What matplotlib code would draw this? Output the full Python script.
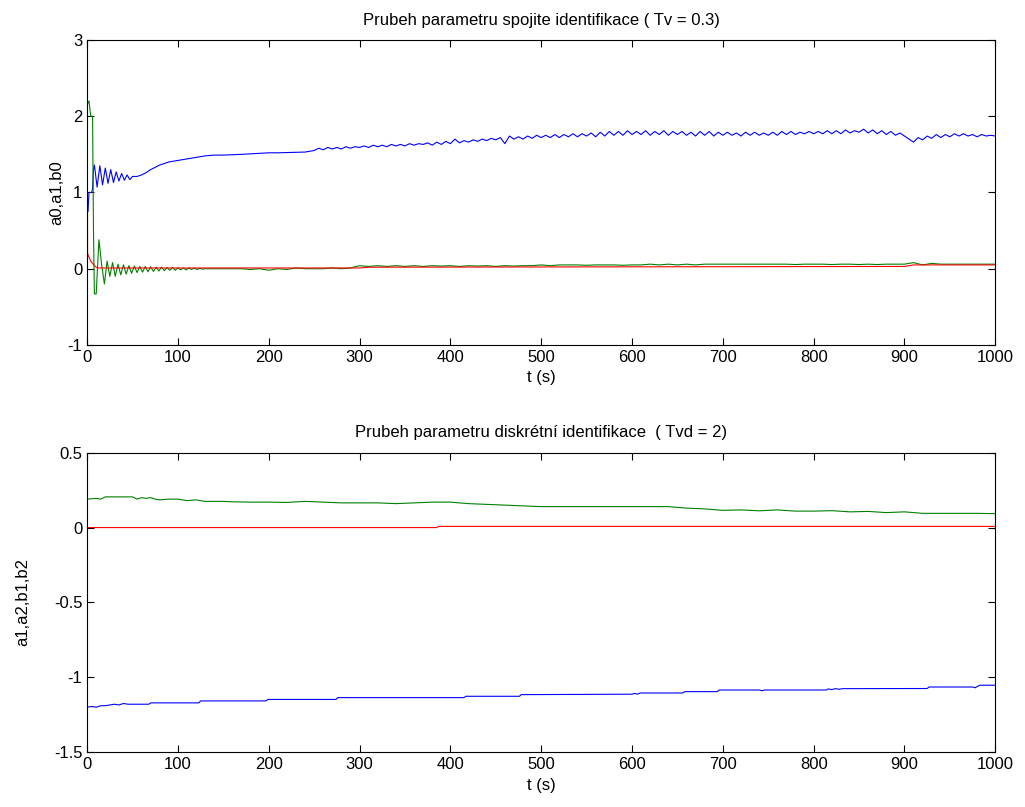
import numpy as np
import matplotlib
matplotlib.use("Agg")
import matplotlib.pyplot as plt
from matplotlib.ticker import FormatStrFormatter

plt.rcParams["font.family"] = ["Liberation Sans", "DejaVu Sans"]
plt.rcParams["axes.unicode_minus"] = False

# --- top: continuous identification ---
t_blue1 = [0, 1, 2, 3, 5, 6, 7,
           8, 11, 14, 17, 20, 23, 26, 29, 32, 35, 38, 41, 44, 47, 50,
           55, 60, 65, 70, 80, 90, 100, 110, 120, 130, 140, 150, 170, 200, 210, 240, 250]
blue1 = [0.75, 0.75, 1.0, 1.0, 1.0, 1.05, 1.3,
         1.36, 1.07, 1.35, 1.1, 1.32, 1.12, 1.3, 1.13, 1.27, 1.15, 1.25, 1.16, 1.23, 1.17, 1.21,
         1.21, 1.23, 1.26, 1.3, 1.36, 1.40, 1.42, 1.44, 1.46, 1.48, 1.49, 1.49, 1.50, 1.52,
         1.52, 1.53, 1.55]
t_blue2 = np.arange(255, 1001, 5)
blue2 = [1.58, 1.56, 1.59, 1.57, 1.59, 1.57, 1.60, 1.58, 1.60, 1.59,
         1.61, 1.59, 1.62, 1.60, 1.62, 1.60, 1.63, 1.61, 1.63, 1.61,
         1.64, 1.62, 1.64, 1.63, 1.65, 1.62, 1.66, 1.63, 1.67, 1.64,
         1.70, 1.65, 1.68, 1.66, 1.69, 1.67, 1.70, 1.68, 1.71, 1.69,
         1.72, 1.64, 1.74, 1.70, 1.73, 1.70, 1.74, 1.71, 1.75, 1.72,
         1.75, 1.72, 1.76, 1.72, 1.76, 1.73, 1.77, 1.73, 1.77, 1.74,
         1.78, 1.73, 1.79, 1.74, 1.80, 1.75, 1.80, 1.75, 1.81, 1.76,
         1.80, 1.76, 1.81, 1.75, 1.80, 1.76, 1.81, 1.75, 1.80, 1.76,
         1.80, 1.75, 1.79, 1.74, 1.80, 1.75, 1.80, 1.74, 1.79, 1.75,
         1.79, 1.75, 1.78, 1.74, 1.79, 1.75, 1.79, 1.75, 1.78, 1.75,
         1.79, 1.75, 1.80, 1.76, 1.80, 1.76, 1.79, 1.77, 1.80, 1.77,
         1.80, 1.77, 1.81, 1.77, 1.81, 1.77, 1.82, 1.78, 1.81, 1.79,
         1.83, 1.78, 1.82, 1.77, 1.81, 1.76, 1.80, 1.75, 1.78, 1.74,
         1.70, 1.66, 1.72, 1.69, 1.74, 1.71, 1.76, 1.72, 1.76, 1.73,
         1.77, 1.74, 1.77, 1.74, 1.76, 1.73, 1.76, 1.74, 1.75, 1.74]

t_green1 = [0, 2, 4, 6, 7, 8, 10,
            13, 16, 19, 22, 25, 28, 31, 34, 37, 40, 43, 46, 49, 52, 55, 58, 61, 64, 67, 70,
            73, 76, 79, 82, 85, 88, 91, 94, 97, 100, 103, 106, 109, 112, 115, 118, 121, 124,
            127, 130]
green1 = [2.15, 2.2, 2.0, 2.0, 0.5, -0.33, -0.33,
          0.38, 0.05, -0.2, 0.1, -0.1, 0.08, -0.1, 0.06, -0.08, 0.05,
          -0.07, 0.04, -0.06, 0.035, -0.05, 0.03, -0.045, 0.03, -0.04, 0.025,
          -0.035, 0.02, -0.03, 0.02, -0.025, 0.015, -0.02, 0.015, -0.02, 0.01,
          -0.015, 0.01, -0.015, 0.01, -0.01, 0.01, -0.01, 0.005, -0.005, 0.0]
t_green2 = np.arange(140, 1001, 10)
green2 = [0.0, 0.0, 0.0, 0.0, -0.01, 0.0, -0.02, 0.0, -0.01, 0.01, 0.0, 0.0, 0.0, 0.01, 0.0, 0.01,
          0.04, 0.03, 0.04, 0.03, 0.04, 0.03, 0.04, 0.03, 0.04, 0.035,
          0.04, 0.03, 0.04, 0.035, 0.04, 0.03, 0.04, 0.035, 0.04, 0.04,
          0.05, 0.04, 0.05, 0.05, 0.05, 0.045, 0.05, 0.05, 0.05, 0.045,
          0.05, 0.05, 0.06, 0.05, 0.06, 0.05, 0.06, 0.05, 0.06, 0.06,
          0.06, 0.06, 0.06, 0.06, 0.06, 0.06, 0.06, 0.06, 0.055, 0.06,
          0.06, 0.06, 0.055, 0.06, 0.06, 0.055, 0.06, 0.055, 0.06, 0.06,
          0.06, 0.08, 0.05, 0.07, 0.06, 0.06, 0.06, 0.06, 0.06, 0.06, 0.06]

t_red1 = [0, 0.5, 2, 4, 6, 8, 10, 12, 15, 20, 300, 310, 900, 910, 920, 1000]
red1 = [3.5, 0.2, 0.15, 0.1, 0.07, 0.04, 0.02, 0.01, 0.01, 0.01, 0.01, 0.02, 0.03, 0.05,
        0.05, 0.05]

# --- bottom: discrete identification ---
t_blue_d = [0, 5, 10, 15, 20, 25, 30, 35, 40, 45, 68, 70, 123, 125, 197, 199, 274, 276, 415,
            417, 476, 478, 600, 603, 606, 609, 656, 658, 694, 696, 740, 743, 746, 814, 816,
            820, 824, 828, 832, 840, 925, 927, 975, 978, 980, 983, 1000]
blue_d = [-1.2, -1.195, -1.2, -1.19, -1.19, -1.185, -1.18, -1.185, -1.175, -1.18, -1.18,
          -1.171, -1.171, -1.158, -1.158, -1.148, -1.148, -1.136, -1.136, -1.127, -1.127,
          -1.116, -1.113, -1.108, -1.113, -1.105, -1.105, -1.096, -1.096, -1.085, -1.085,
          -1.09, -1.085, -1.085, -1.078, -1.082, -1.076, -1.08, -1.076, -1.076, -1.075,
          -1.065, -1.065, -1.07, -1.062, -1.053, -1.053]

t_green_d = [0, 10, 15, 20, 30, 40, 50, 55, 60, 65, 70, 75, 80, 90, 100, 110, 120, 130, 140,
             150, 160, 180, 200, 220, 240, 260, 280, 300, 320, 340, 360, 380, 400, 420, 440,
             460, 480, 500, 550, 600, 620, 640, 660, 680, 700, 720, 740, 760, 780, 800, 820,
             840, 860, 880, 900, 920, 940, 960, 980, 1000]
green_d = [0.19, 0.195, 0.19, 0.205, 0.205, 0.205, 0.205, 0.19, 0.20, 0.195, 0.20, 0.19,
           0.185, 0.19, 0.19, 0.18, 0.185, 0.175, 0.175, 0.175, 0.172, 0.17, 0.17, 0.168,
           0.175, 0.17, 0.165, 0.165, 0.165, 0.16, 0.165, 0.17, 0.17, 0.16, 0.155, 0.15,
           0.145, 0.14, 0.14, 0.14, 0.14, 0.14, 0.13, 0.125, 0.115, 0.118, 0.112, 0.118,
           0.11, 0.11, 0.113, 0.105, 0.108, 0.1, 0.105, 0.095, 0.095, 0.095, 0.095, 0.093]

t_red_d = [0, 385, 387, 1000]
red_d = [0.0, 0.0, 0.008, 0.008]

fig = plt.figure(figsize=(10.25, 8.07), dpi=100)
ax1 = fig.add_axes([0.085, 0.5725, 0.886, 0.378])
ax2 = fig.add_axes([0.085, 0.068, 0.886, 0.371])

lw = 0.8
ax1.plot(t_blue1 + list(t_blue2), blue1 + blue2, color="#0000ff", lw=lw)
ax1.plot(t_green1 + list(t_green2), green1 + green2, color="#008000", lw=lw)
ax1.plot(t_red1, red1, color="#ff0000", lw=lw)
ax1.set_xlim(0, 1000)
ax1.set_ylim(-1, 3)
ax1.set_yticks([-1, 0, 1, 2, 3])
ax1.set_title("Prubeh parametru spojite identifikace ( Tv = 0.3)", fontsize=12, pad=11)
ax1.set_xlabel("t (s)", fontsize=12)
ax1.set_ylabel("a0,a1,b0", fontsize=12, labelpad=2)

ax2.plot(t_blue_d, blue_d, color="#0000ff", lw=lw)
ax2.plot(t_green_d, green_d, color="#008000", lw=lw)
ax2.plot(t_red_d, red_d, color="#ff0000", lw=lw)
ax2.set_xlim(0, 1000)
ax2.set_ylim(-1.5, 0.5)
ax2.set_yticks([-1.5, -1, -0.5, 0, 0.5])
ax2.yaxis.set_major_formatter(FormatStrFormatter("%g"))
ax2.set_title("Prubeh parametru diskrétní identifikace  ( Tvd = 2)", fontsize=12, pad=11)
ax2.set_xlabel("t (s)", fontsize=12)
ax2.set_ylabel("a1,a2,b1,b2", fontsize=12, labelpad=17)

for ax in (ax1, ax2):
    ax.set_xticks(np.arange(0, 1001, 100))
    ax.tick_params(direction="in", top=True, right=True, labelsize=12, length=5, width=0.8)
    for s in ax.spines.values():
        s.set_linewidth(0.8)

fig.savefig("out.png", dpi=100)
